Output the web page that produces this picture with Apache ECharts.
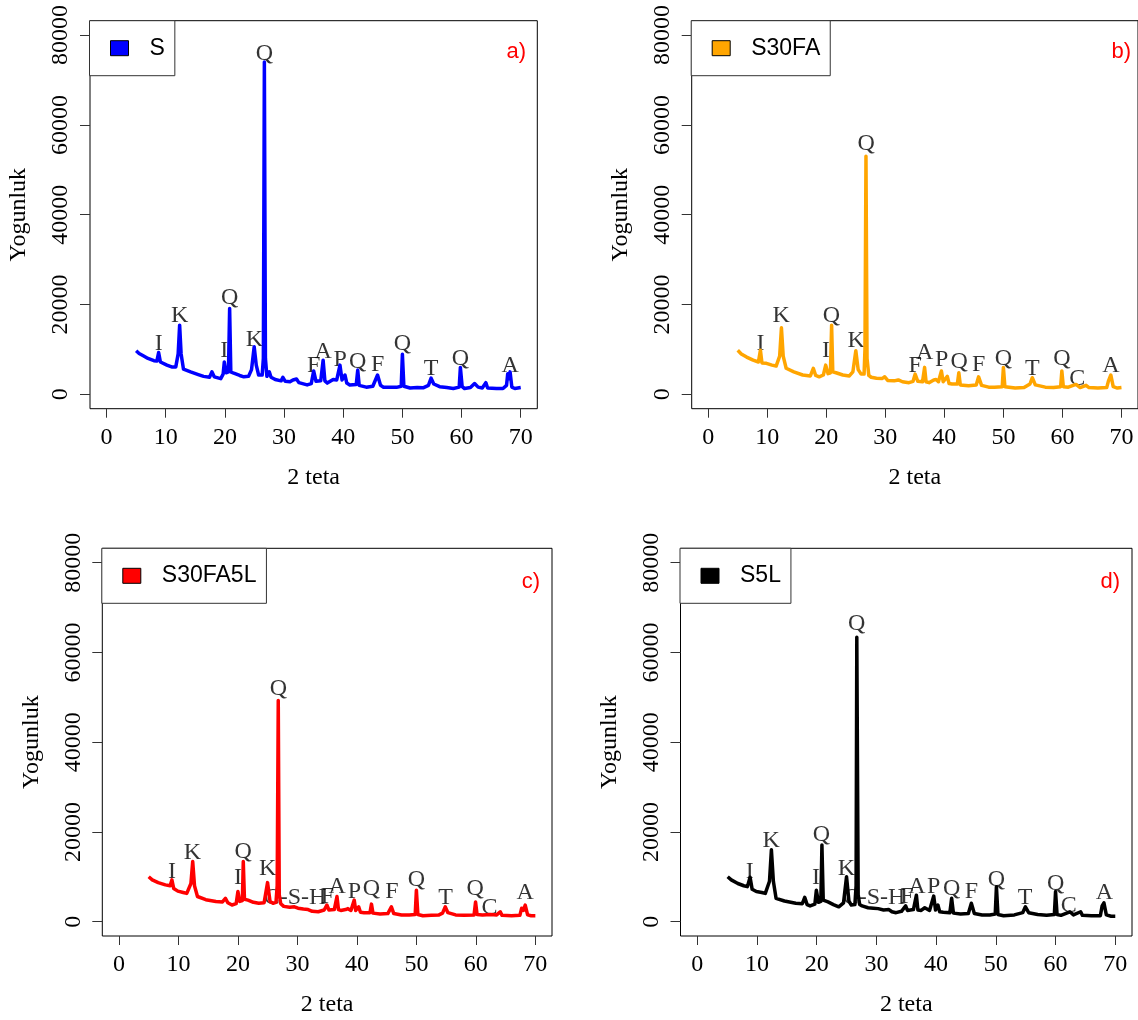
<!DOCTYPE html>
<html><head><meta charset="utf-8">
<script src="https://cdn.jsdelivr.net/npm/echarts@6/dist/echarts.min.js"></script>
<style>html,body{margin:0;padding:0;background:#fff}#c{width:1138px;height:1020px}</style>
</head><body><div id="c"></div>
<script>
const xTickValues = [0, 10, 20, 30, 40, 50, 60, 70];
const yTickValues = [0, 20000, 40000, 60000, 80000];
const seriesNames = ['S', 'S30FA', 'S30FA5L', 'S5L'];
const panelTags = ['a)', 'b)', 'c)', 'd)'];
const xTitle = '2 teta';
const yTitle = 'Yogunluk';

const S_data = [[5.0,9700],[5.5,9100],[6.2,8600],[7.0,8000],[8.0,7500],[8.5,7400],[8.8,9300],[9.1,7200],[10.2,6500],[11.0,6100],[11.7,6100],[12.1,9000],[12.35,15400],[12.6,9000],[13.0,5600],[14.2,5000],[15.5,4400],[16.4,4000],[17.4,3800],[17.8,5000],[18.2,3900],[19.3,3500],[19.7,4500],[19.9,7200],[20.2,4800],[20.6,5000],[20.8,19100],[21.0,5000],[21.5,4700],[22.5,4200],[23.2,3900],[24.0,4000],[24.5,5500],[24.95,10600],[25.3,6500],[25.7,4300],[26.3,4300],[26.5,8000],[26.67,74000],[26.85,8000],[27.1,4000],[27.5,5000],[27.8,3800],[28.5,3300],[29.5,3000],[29.8,3800],[30.2,2900],[31.0,2800],[31.5,3200],[32.1,3400],[32.5,2600],[33.9,2100],[34.6,2400],[35.0,5200],[35.4,2900],[36.2,3000],[36.6,7600],[36.9,3000],[37.3,2500],[38.3,3300],[38.9,3200],[39.45,6500],[39.8,3200],[40.3,4300],[40.6,2500],[41.1,2100],[42.2,2200],[42.45,5400],[42.7,2000],[43.9,1600],[45.0,1800],[45.8,4300],[46.3,2000],[46.8,1600],[48.0,1600],[49.0,1550],[49.8,1800],[50.0,8900],[50.25,1800],[51.3,1400],[52.5,1500],[53.5,1450],[54.4,2000],[54.85,3600],[55.3,2300],[56.3,1700],[57.5,1500],[58.6,1300],[59.6,1600],[59.8,6000],[60.1,1700],[60.5,1300],[61.5,1500],[62.2,2400],[62.8,1600],[63.5,1400],[64.1,2600],[64.4,1400],[65.9,1300],[67.0,1300],[67.6,2000],[67.8,4600],[68.0,3500],[68.2,5000],[68.5,1600],[69.0,1300],[70.0,1500]];

const S30FA_data = [[5.0,9800],[5.6,9000],[6.5,8300],[7.6,7600],[8.5,7200],[8.84,9800],[9.1,7000],[9.85,6900],[10.8,6500],[11.5,6300],[12.1,8500],[12.4,14800],[12.7,8500],[13.2,5800],[14.5,5000],[16.0,4300],[17.3,4100],[17.8,5800],[18.2,4200],[18.8,3900],[19.5,4300],[19.9,6500],[20.3,4600],[20.7,4800],[20.9,15400],[21.1,5000],[21.65,4800],[22.8,4300],[23.9,4100],[24.5,5000],[25.0,9700],[25.4,5500],[25.9,4500],[26.4,4500],[26.55,10000],[26.72,53000],[26.9,8000],[27.2,4200],[27.6,3800],[28.5,3600],[29.5,3550],[29.9,3900],[30.4,3100],[31.5,3000],[32.2,3200],[32.9,2800],[34.0,2600],[34.7,2900],[35.05,4500],[35.5,2900],[36.3,2800],[36.65,6000],[36.9,2800],[37.4,2600],[38.2,3200],[38.6,3300],[39.0,2800],[39.5,5200],[39.8,2800],[40.5,4000],[40.8,2400],[41.3,2300],[42.2,2300],[42.45,4800],[42.7,2100],[44.1,1900],[45.4,2100],[45.8,3900],[46.3,2000],[47.5,1600],[48.5,1600],[49.8,1700],[50.0,6000],[50.25,1700],[52.0,1400],[53.5,1500],[54.5,2300],[54.9,3700],[55.4,2100],[57.1,1600],[58.5,1500],[59.7,1700],[59.9,5200],[60.15,1700],[61.0,1600],[62.3,2200],[63.0,1500],[64.0,2000],[64.5,1500],[66.0,1400],[67.5,1500],[67.8,3000],[68.2,4300],[68.6,1700],[69.3,1400],[70.0,1500]];

const S30FA5L_data = [[5.0,10000],[5.6,9300],[6.6,8700],[7.8,8200],[8.6,8000],[8.9,9300],[9.2,7400],[9.9,6800],[10.8,6500],[11.4,6300],[12.1,8500],[12.4,13400],[12.7,8000],[13.2,5600],[14.6,4900],[16.3,4500],[17.4,4400],[17.9,5200],[18.3,4200],[19.0,3700],[19.7,4000],[20.0,6700],[20.3,4500],[20.75,4700],[20.9,13400],[21.1,5000],[21.7,4800],[22.6,4300],[23.5,4100],[24.4,4200],[24.98,8700],[25.4,4500],[25.9,4100],[26.4,4300],[26.6,8000],[26.78,49300],[26.95,6000],[27.2,4000],[27.7,3400],[28.7,3200],[29.5,3300],[30.1,3000],[31.0,2800],[31.8,2700],[32.5,2300],[33.5,2200],[34.5,2600],[34.95,3700],[35.3,2600],[36.2,2700],[36.65,5600],[36.9,2700],[37.3,2500],[38.1,2700],[38.5,2900],[39.0,2500],[39.55,4800],[39.8,2500],[40.3,3300],[40.6,2100],[41.2,2000],[42.2,2000],[42.45,3900],[42.7,1900],[43.9,1700],[45.2,1800],[45.8,3300],[46.2,1800],[47.5,1500],[48.8,1500],[49.8,1600],[50.0,7000],[50.25,1600],[51.1,1300],[52.5,1400],[53.8,1500],[54.4,1900],[54.85,3300],[55.3,2000],[56.6,1500],[58.0,1400],[59.7,1500],[59.95,4400],[60.2,1600],[61.1,1500],[62.5,1600],[63.5,1500],[64.1,2200],[64.4,1400],[66.0,1300],[67.4,1400],[67.7,3000],[68.0,2500],[68.3,3700],[68.7,1500],[69.3,1300],[70.0,1300]];

const S5L_data = [[5.1,10000],[5.7,9300],[6.8,8500],[7.8,8000],[8.4,7800],[8.85,9900],[9.2,7200],[9.9,6700],[10.8,6500],[11.4,6300],[12.1,9000],[12.42,16000],[12.75,9000],[13.2,5200],[14.6,4600],[16.5,4100],[17.6,4000],[18.0,5400],[18.4,3800],[18.9,3500],[19.7,3900],[19.95,7000],[20.3,4300],[20.7,4500],[20.88,17100],[21.1,4800],[21.9,4400],[22.8,3800],[23.7,3300],[24.5,4200],[25.0,10000],[25.4,4600],[25.8,3700],[26.4,3800],[26.6,8000],[26.72,63400],[26.95,6000],[27.2,3800],[27.6,3500],[28.6,3100],[29.5,3000],[30.3,2900],[31.2,2600],[32.1,2700],[32.6,2200],[33.3,2000],[34.2,2300],[34.9,3500],[35.2,2500],[36.2,2700],[36.7,5900],[36.95,2600],[37.5,2500],[38.1,3100],[38.4,3300],[38.9,2500],[39.6,5700],[39.9,2600],[40.3,3700],[40.6,2200],[41.2,2100],[42.3,2000],[42.6,5200],[42.9,1900],[44.1,1700],[45.4,1800],[45.9,4100],[46.4,1800],[47.7,1500],[49.0,1500],[49.9,1700],[50.1,7800],[50.35,1600],[51.3,1300],[53.1,1500],[54.5,2000],[54.95,3300],[55.5,2000],[57.0,1600],[58.5,1400],[59.8,1600],[60.0,6700],[60.25,1600],[60.9,1400],[62.4,2200],[63.0,1500],[64.2,2200],[64.5,1400],[66.0,1300],[67.5,1300],[67.8,3500],[68.1,4200],[68.5,1500],[69.3,1200],[70.0,1200]];

const S_labels = [[8.8,11300,'I'],[12.35,17400,'K'],[20.8,21500,'Q'],[19.9,9700,'I'],[25.0,12100,'K'],[26.67,75800,'Q'],[35.0,6300,'F'],[36.6,9500,'A'],[39.5,7600,'P'],[42.45,7250,'Q'],[45.8,6500,'F'],[50.0,11300,'Q'],[54.85,5800,'T'],[59.8,8000,'Q'],[68.2,6300,'A']];
const S30FA_labels = [[8.85,11200,'I'],[12.35,17400,'K'],[20.85,17600,'Q'],[19.95,9800,'I'],[25.05,11900,'K'],[26.75,55800,'Q'],[35.05,6300,'F'],[36.65,9250,'A'],[39.55,7600,'P'],[42.5,7250,'Q'],[45.8,6500,'F'],[50.0,8000,'Q'],[54.9,5800,'T'],[59.9,8000,'Q'],[62.5,3550,'C'],[68.2,6300,'A']];
const S30FA5L_labels = [[8.9,11100,'I'],[12.35,15400,'K'],[20.9,15600,'Q'],[20.0,9700,'I'],[25.0,11900,'K'],[26.8,52000,'Q'],[29.6,5350,'C-S-H'],[35.05,5600,'F'],[36.7,7800,'A'],[39.6,6700,'P'],[42.45,7400,'Q'],[45.9,6700,'F'],[50.0,9300,'Q'],[54.9,5350,'T'],[59.9,7400,'Q'],[62.3,3200,'C'],[68.3,6500,'A']];
const S5L_labels = [[8.8,11100,'I'],[12.4,18000,'K'],[20.8,19300,'Q'],[19.9,9700,'I'],[25.0,11900,'K'],[26.7,66300,'Q'],[29.6,5350,'C-S-H'],[35.1,5600,'F'],[36.8,7800,'A'],[39.6,7800,'P'],[42.6,7400,'Q'],[45.9,6700,'F'],[50.1,9300,'Q'],[54.9,5350,'T'],[60.0,8550,'Q'],[62.2,3500,'C'],[68.2,6500,'A']];

const allData = [S_data, S30FA_data, S30FA5L_data, S5L_data];
const allLabels = [S_labels, S30FA_labels, S30FA5L_labels, S5L_labels];

const colors = ['#0000FF', '#FFA500', '#FF0000', '#000000'];
const layouts = [
  {left: 90, top: 20.7, width: 447.3, height: 388, tagX: 526, tagY: 51.7},
  {left: 691.7, top: 20.7, width: 448, height: 388, tagX: 1131, tagY: 51.7},
  {left: 102.3, top: 548.3, width: 449.7, height: 387.7, tagX: 540, tagY: 581.7},
  {left: 680.5, top: 548.3, width: 451.5, height: 387.7, tagX: 1120, tagY: 581.7}
];
const SERIF = 'Liberation Serif';
const SANS = 'Liberation Sans';

const option = {
  animation: false,
  backgroundColor: '#ffffff',
  grid: [], xAxis: [], yAxis: [], series: [], legend: [], graphic: []
};

layouts.forEach((L, i) => {
  option.grid.push({left: L.left, top: L.top, width: L.width, height: L.height,
    show: true, borderColor: '#000', borderWidth: 1, backgroundColor: 'transparent', containLabel: false});
  option.xAxis.push({type: 'value', gridIndex: i, min: -2.8, max: 72.8,
    axisLine: {show: false, onZero: false}, splitLine: {show: false},
    axisTick: {show: true, length: 9, customValues: xTickValues, lineStyle: {color: '#333', width: 1}},
    axisLabel: {customValues: xTickValues, formatter: v => String(v), fontFamily: SERIF, fontSize: 24, color: '#000', margin: 17},
    name: xTitle, nameLocation: 'middle', nameGap: 57,
    nameTextStyle: {fontFamily: SERIF, fontSize: 24, color: '#000'}});
  option.yAxis.push({type: 'value', gridIndex: i, min: -3200, max: 83200,
    axisLine: {show: false, onZero: false}, splitLine: {show: false},
    axisTick: {show: true, length: 10, customValues: yTickValues, lineStyle: {color: '#333', width: 1}},
    axisLabel: {customValues: yTickValues, formatter: v => String(v), rotate: 90, fontFamily: SERIF, fontSize: 24, color: '#000', margin: 17},
    name: yTitle, nameLocation: 'middle', nameGap: 59,
    nameTextStyle: {fontFamily: SERIF, fontSize: 24, color: '#000'}});
  option.series.push({type: 'scatter', name: 'lab' + i, xAxisIndex: i, yAxisIndex: i,
    data: allLabels[i], symbolSize: 0, silent: true, z: 1,
    label: {show: true, position: 'inside', formatter: p => p.value[2],
      fontFamily: SERIF, fontSize: 24, color: '#000'}});
  option.series.push({type: 'line', name: seriesNames[i], xAxisIndex: i, yAxisIndex: i,
    data: allData[i], showSymbol: false, symbol: 'none', z: 3,
    lineStyle: {color: colors[i], width: 3.5, join: 'round'}, itemStyle: {color: colors[i]}});
  option.legend.push({data: [seriesNames[i]], left: L.left - 0.5, top: L.top, orient: 'vertical',
    selectedMode: false, icon: 'rect', itemWidth: 18, itemHeight: 15,
    padding: [16, 10, 16, 20.5], borderColor: '#333', borderWidth: 1, backgroundColor: '#fff',
    itemStyle: {borderColor: '#000', borderWidth: 1},
    textStyle: {fontFamily: SANS, fontSize: 23, color: '#000', padding: [0, 0, 0, 16]}});
  option.graphic.push({type: 'text', x: L.tagX, y: L.tagY, z: 10,
    style: {text: panelTags[i], fill: '#FF0000', font: '22px ' + SANS,
      textAlign: 'right', textVerticalAlign: 'middle', align: 'right', verticalAlign: 'middle'}});
});

const chart = echarts.init(document.getElementById('c'), null, {renderer: 'canvas'});
chart.setOption(option);
</script>
</body></html>
